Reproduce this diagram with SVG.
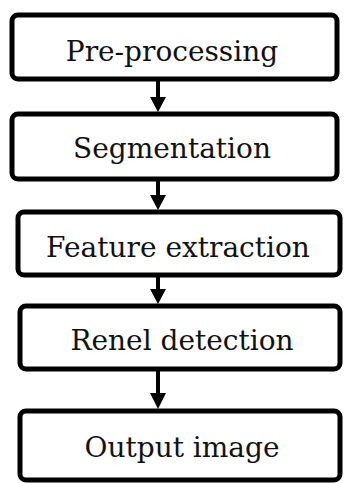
<svg xmlns="http://www.w3.org/2000/svg" width="344" height="483" viewBox="0 0 344 483">
<defs>
<style>
.box{fill:#fff;stroke:#000;stroke-width:5}
.lbl{font-family:"DejaVu Serif",serif;font-size:28px;fill:#111;text-anchor:middle}
.con{stroke:#000;stroke-width:4;fill:none}
.head{fill:#000}
</style>
</defs>
<rect width="344" height="483" fill="#fff"/>
<g id="connectors">
<line class="con" x1="158" y1="79" x2="158" y2="100"/><polygon class="head" points="150,97 166,97 158,112"/>
<line class="con" x1="158" y1="179" x2="158" y2="198"/><polygon class="head" points="150,195 166,195 158,210"/>
<line class="con" x1="158" y1="275" x2="158" y2="292"/><polygon class="head" points="150,289 166,289 158,304"/>
<line class="con" x1="158" y1="369" x2="158" y2="396"/><polygon class="head" points="150,393 166,393 158,409"/>
</g>
<g id="n1"><rect class="box" x="12" y="15" width="325" height="64" rx="6"/><text class="lbl" x="172" y="61">Pre-processing</text></g>
<g id="n2"><rect class="box" x="12" y="114" width="325" height="65" rx="6"/><text class="lbl" x="172" y="158">Segmentation</text></g>
<g id="n3"><rect class="box" x="18" y="212" width="322" height="63" rx="6"/><text class="lbl" x="178" y="257">Feature extraction</text></g>
<g id="n4"><rect class="box" x="20" y="306" width="320" height="63" rx="6"/><text class="lbl" x="182" y="350">Renel detection</text></g>
<g id="n5"><rect class="box" x="20" y="411" width="320" height="69" rx="6"/><text class="lbl" x="182" y="457">Output image</text></g>
</svg>
